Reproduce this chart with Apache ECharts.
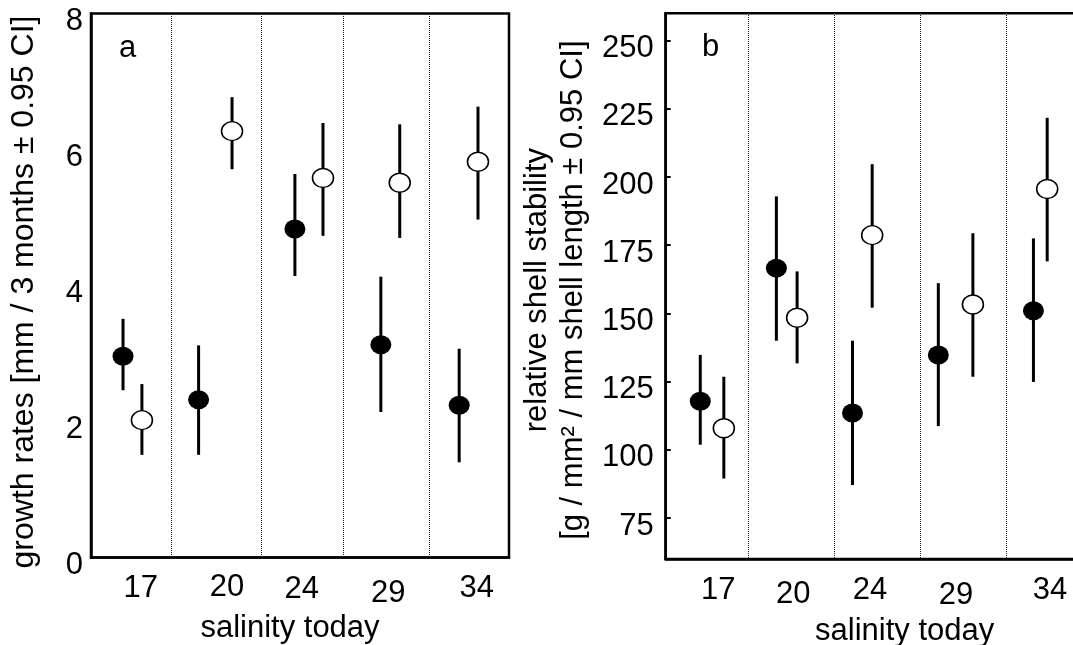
<!DOCTYPE html>
<html>
<head>
<meta charset="utf-8">
<script src="https://cdn.jsdelivr.net/npm/echarts@6/dist/echarts.min.js"></script>
<style>
html,body{margin:0;padding:0;background:#fff;}
#chart{width:1073px;height:645px;}
</style>
</head>
<body>
<div id="chart"></div>
<script>
// ---- data ----
const categories = ['17', '20', '24', '29', '34'];

// panel a: growth rates
const aFilledX    = [0.383, 1.287, 2.439, 3.467, 4.404];
const aFilledMean = [2.96, 2.32, 4.83, 3.13, 2.24];
const aFilledLow  = [2.46, 1.51, 4.14, 2.14, 1.40];
const aFilledHigh = [3.51, 3.12, 5.64, 4.13, 3.07];
const aOpenX      = [0.609, 1.687, 2.775, 3.693, 4.629];
const aOpenMean   = [2.02, 6.27, 5.58, 5.51, 5.82];
const aOpenLow    = [1.51, 5.71, 4.73, 4.70, 4.97];
const aOpenHigh   = [2.55, 6.77, 6.39, 6.37, 6.63];
const aDividers   = [0.957, 2.036, 3.014, 4.038];
const aLabelX     = [0.594, 1.627, 2.520, 3.557, 4.614];
const aTicks      = [0, 2, 4, 6, 8];

// panel b: relative shell stability
const bFilledX    = [0.402, 1.287, 2.172, 3.170, 4.276];
const bFilledMean = [117.8, 166.6, 113.5, 134.8, 151.0];
const bFilledLow  = [101.9, 140.0, 87.1, 108.7, 124.9];
const bFilledHigh = [134.8, 192.9, 140.0, 161.1, 177.5];
const bOpenX      = [0.676, 1.528, 2.401, 3.572, 4.436];
const bOpenMean   = [107.9, 148.4, 178.7, 153.3, 195.6];
const bOpenLow    = [89.5, 131.7, 152.1, 126.8, 169.1];
const bOpenHigh   = [126.8, 165.4, 204.7, 179.4, 221.7];
const bDividers   = [0.957, 1.959, 2.956, 3.953];
const bLabelX     = [0.612, 1.484, 2.376, 3.376, 4.469];
const bTicks      = [75, 100, 125, 150, 175, 200, 225, 250];

// ---- layout (not data) ----
const FONT = '"Liberation Sans", Arial, Helvetica, sans-serif';
const FS = 31;
const aLabelShift = [3, 0, 5, 12, 3];
const bLabelShift = [0, 8, 0, 10, 0];

function zip3(x, lo, hi) { return x.map((v, i) => [v, lo[i], hi[i]]); }
function zip2(x, y) { return x.map((v, i) => [v, y[i]]); }

function errRender(params, api) {
  const p1 = api.coord([api.value(0), api.value(1)]);
  const p2 = api.coord([api.value(0), api.value(2)]);
  return {
    type: 'line',
    shape: { x1: p1[0], y1: p1[1], x2: p2[0], y2: p2[1] },
    style: { stroke: '#000', lineWidth: 3 }
  };
}

function dividerRender(params, api) {
  const cs = params.coordSys;
  const p = api.coord([api.value(0), 0]);
  const x = Math.round(p[0]) + 0.5;
  const y1 = Math.round(cs.y);
  const y2 = Math.round(cs.y + cs.height);
  return {
    type: 'line',
    shape: { x1: x, y1: y1, x2: x, y2: y2 },
    style: { stroke: '#222', lineWidth: 1, lineDash: [1, 1] }
  };
}

function labelFormatter(pos) {
  return function (v) {
    let k = 0, best = Infinity;
    pos.forEach((p, i) => { const d = Math.abs(p - v); if (d < best) { best = d; k = i; } });
    return '{s' + k + '|' + categories[k] + '}';
  };
}
function labelRich(shifts) {
  const r = {};
  shifts.forEach((s, i) => {
    r['s' + i] = { fontSize: FS, fontFamily: FONT, color: '#000', lineHeight: FS, padding: [s, 0, 0, 0] };
  });
  return r;
}
const yLabelRich = { v: { fontSize: FS, fontFamily: FONT, color: '#000', lineHeight: FS, padding: [16, 0, 0, 0] } };
function yFormatter(v) { return '{v|' + v + '}'; }

const chart = echarts.init(document.getElementById('chart'), null, { renderer: 'canvas' });

const gridCommon = { show: true, borderColor: '#000', borderWidth: 2.5, backgroundColor: '#fff', containLabel: false, outerBoundsMode: 'none' };

function xAxisDef(gridIndex, labelPos, shifts, margin, namePad) {
  return {
    type: 'value', gridIndex: gridIndex, min: 0, max: 5,
    splitLine: { show: false },
    axisLine: { show: true, lineStyle: { color: '#000', width: 2.5 } },
    axisTick: { show: false },
    axisLabel: {
      customValues: labelPos,
      margin: margin,
      verticalAlign: 'top',
      formatter: labelFormatter(labelPos),
      rich: labelRich(shifts)
    },
    name: 'salinity today',
    nameLocation: 'middle',
    nameGap: 54,
    nameTextStyle: { fontSize: FS, fontFamily: FONT, color: '#000', lineHeight: FS, verticalAlign: 'top', padding: namePad }
  };
}

function dividerSeries(xi, yi, divs) {
  return {
    type: 'custom', xAxisIndex: xi, yAxisIndex: yi, silent: true,
    renderItem: dividerRender, encode: { x: 0 },
    data: divs.map(d => [d])
  };
}

const option = {
  backgroundColor: '#fff',
  animation: false,
  textStyle: { fontFamily: FONT },
  grid: [
    Object.assign({ left: 91, top: 13.5, width: 418, height: 544 }, gridCommon),
    Object.assign({ left: 665.7, top: 13.3, width: 430, height: 545.7 }, gridCommon)
  ],
  xAxis: [
    xAxisDef(0, aLabelX, aLabelShift, 14, [0, 20, 0, 0]),
    xAxisDef(1, bLabelX, bLabelShift, 16, [0, 0, 0, 48])
  ],
  yAxis: [
    {
      type: 'value', gridIndex: 0, min: 0, max: 8, interval: 2,
      splitLine: { show: false },
      axisLine: { show: true, lineStyle: { color: '#000', width: 2.5 } },
      axisTick: { show: false },
      axisLabel: { margin: 8, verticalAlign: 'middle', formatter: yFormatter, rich: yLabelRich },
      name: 'growth rates [mm / 3 months ± 0.95 CI]',
      nameLocation: 'middle', nameRotate: 90, nameGap: 51,
      nameTextStyle: { fontSize: 32, fontFamily: FONT, color: '#000', padding: [0, 13, 0, 0] }
    },
    {
      type: 'value', gridIndex: 1, min: 60, max: 260,
      splitLine: { show: false },
      axisLine: { show: true, lineStyle: { color: '#000', width: 2.5 } },
      axisTick: { show: true, inside: true, length: 5, customValues: bTicks, lineStyle: { color: '#000', width: 2 } },
      axisLabel: { customValues: bTicks, margin: 12, verticalAlign: 'middle', formatter: yFormatter, rich: yLabelRich },
      name: 'relative shell stability\n[g / mm² / mm shell length ± 0.95 CI]',
      nameLocation: 'middle', nameRotate: 90, nameGap: 74,
      nameTextStyle: { fontSize: FS, fontFamily: FONT, color: '#000', lineHeight: 36, padding: [0, 8, 0, 0] }
    }
  ],
  graphic: [
    { type: 'text', left: 119, top: 33, style: { text: 'a', font: FS + 'px ' + FONT, fill: '#000' }, silent: true },
    { type: 'text', left: 702, top: 32, style: { text: 'b', font: FS + 'px ' + FONT, fill: '#000' }, silent: true }
  ],
  series: [
    dividerSeries(0, 0, aDividers),
    dividerSeries(1, 1, bDividers),
    { type: 'custom', xAxisIndex: 0, yAxisIndex: 0, renderItem: errRender, encode: { x: 0, y: [1, 2] }, data: zip3(aFilledX, aFilledLow, aFilledHigh), silent: true },
    { type: 'custom', xAxisIndex: 0, yAxisIndex: 0, renderItem: errRender, encode: { x: 0, y: [1, 2] }, data: zip3(aOpenX, aOpenLow, aOpenHigh), silent: true },
    { type: 'custom', xAxisIndex: 1, yAxisIndex: 1, renderItem: errRender, encode: { x: 0, y: [1, 2] }, data: zip3(bFilledX, bFilledLow, bFilledHigh), silent: true },
    { type: 'custom', xAxisIndex: 1, yAxisIndex: 1, renderItem: errRender, encode: { x: 0, y: [1, 2] }, data: zip3(bOpenX, bOpenLow, bOpenHigh), silent: true },
    { type: 'scatter', xAxisIndex: 0, yAxisIndex: 0, symbol: 'circle', symbolSize: [21, 19], data: zip2(aFilledX, aFilledMean), itemStyle: { color: '#000', opacity: 1 }, silent: true },
    { type: 'scatter', xAxisIndex: 0, yAxisIndex: 0, symbol: 'circle', symbolSize: [21, 19], data: zip2(aOpenX, aOpenMean), itemStyle: { color: '#fff', borderColor: '#000', borderWidth: 1.5, opacity: 1 }, silent: true },
    { type: 'scatter', xAxisIndex: 1, yAxisIndex: 1, symbol: 'circle', symbolSize: [21, 19], data: zip2(bFilledX, bFilledMean), itemStyle: { color: '#000', opacity: 1 }, silent: true },
    { type: 'scatter', xAxisIndex: 1, yAxisIndex: 1, symbol: 'circle', symbolSize: [21, 19], data: zip2(bOpenX, bOpenMean), itemStyle: { color: '#fff', borderColor: '#000', borderWidth: 1.5, opacity: 1 }, silent: true }
  ]
};
chart.setOption(option);
</script>
</body>
</html>
